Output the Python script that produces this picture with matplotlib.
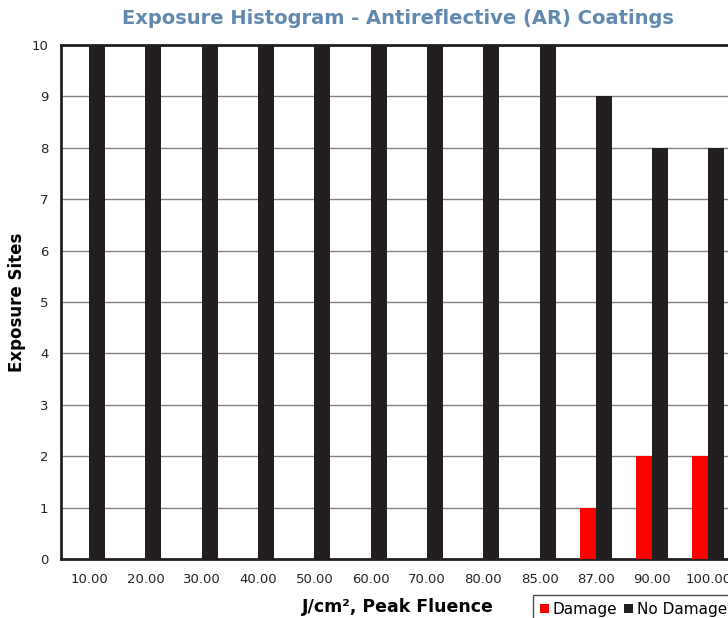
import numpy as np
import matplotlib.pyplot as plt

# Exposure histogram, AR coatings
fluence = ['10.00', '20.00', '30.00', '40.00', '50.00', '60.00',
           '70.00', '80.00', '85.00', '87.00', '90.00', '100.00']
damage = [0, 0, 0, 0, 0, 0, 0, 0, 0, 1, 2, 2]
no_damage = [10, 10, 10, 10, 10, 10, 10, 10, 10, 9, 8, 8]

plt.rcParams['font.family'] = ['DejaVu Sans']

step = 56.3
fig = plt.figure(figsize=(7.28, 6.18), dpi=100)
ax = fig.add_axes([61/728, 59/618, 12*step/728, 514/618])

x = np.arange(len(fluence))
w = 0.285
ax.bar(x - w/2, damage, w, color='#ff0000', label='Damage', zorder=3)
ax.bar(x + w/2, no_damage, w, color='#231f20', label='No Damage', zorder=3)

ax.set_xlim(-0.5, len(fluence) - 0.5)
ax.set_ylim(0, 10)
ax.set_yticks(range(0, 11))
ax.set_xticks(x)
ax.set_xticklabels(fluence)
ax.tick_params(length=0, labelsize=9.5, colors='#222222')
ax.tick_params(axis='x', pad=10)
ax.tick_params(axis='y', pad=9)
ax.grid(axis='y', color='#808080', lw=1, zorder=0)
for s in ax.spines.values():
    s.set_color('#231f20')
    s.set_linewidth(2)

ax.set_ylabel('Exposure Sites', fontsize=12, fontweight='bold')
ax.yaxis.set_label_coords((26 - 61) / (12*step), 0.5)
ax.set_xlabel('J/cm², Peak Fluence', fontsize=12.5, fontweight='bold')
ax.xaxis.set_label_coords((398 - 61) / (12*step), -(598 - 559) / 514)
fig.text(398/728, 1 - 19/618, 'Exposure Histogram - Antireflective (AR) Coatings',
         ha='center', va='center', fontsize=14, fontweight='bold', color='#6089ad')

leg = fig.legend(loc='upper left', bbox_to_anchor=(533/728, 1 - 595/618), ncol=2,
                 fontsize=11, frameon=True, fancybox=False, edgecolor='#231f20',
                 handlelength=0.6, handleheight=0.6, handletextpad=0.25,
                 columnspacing=0.4, borderpad=0.45, borderaxespad=0)
leg.get_frame().set_linewidth(1)

fig.savefig('out.png', dpi=100)
